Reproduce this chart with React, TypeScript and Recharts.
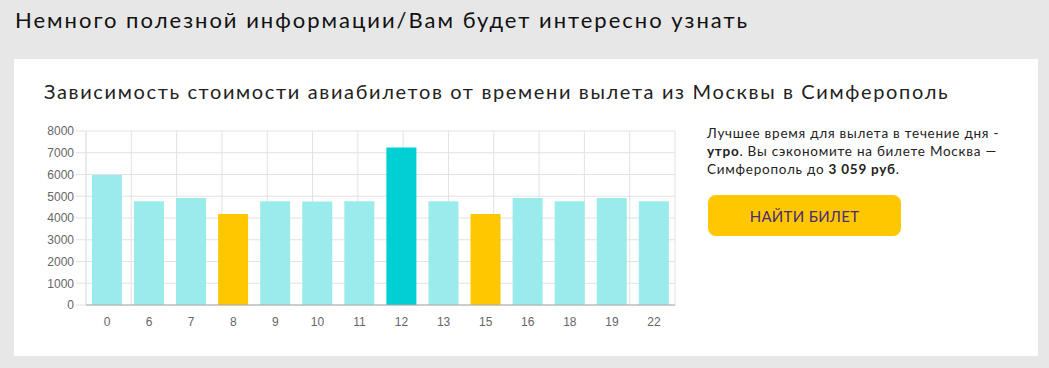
import React from 'react';
import { BarChart, Bar, XAxis, YAxis, CartesianGrid, Cell } from 'recharts';

const hours = ['0', '6', '7', '8', '9', '10', '11', '12', '13', '15', '16', '18', '19', '22'];
const prices = [5980, 4770, 4920, 4180, 4770, 4760, 4770, 7239, 4770, 4180, 4920, 4770, 4920, 4770];
const barKinds = ['normal', 'normal', 'normal', 'best', 'normal', 'normal', 'normal', 'worst', 'normal', 'best', 'normal', 'normal', 'normal', 'normal'];
const yTicks = [0, 1000, 2000, 3000, 4000, 5000, 6000, 7000, 8000];
const boundaryTicks = [0, 1, 2, 3, 4, 5, 6, 7, 8, 9, 10, 11, 12, 13];

const kindColor: Record<string, string> = {
  normal: '#9aebeb',
  best: '#ffc700',
  worst: '#00cfd3',
};

const data = hours.map((h, i) => ({ hour: h, price: prices[i], kind: barKinds[i] }));

const titleFont = "Lato, 'Open Sans', sans-serif";

export default function App() {
  return (
    <div style={{ position: 'fixed', left: 0, top: 0, width: 1049, height: 368, background: '#e7e7e7', overflow: 'hidden' }}>
      <div style={{ position: 'absolute', left: 15, top: 6, fontFamily: titleFont, fontSize: 22, color: '#111', letterSpacing: 2.0, whiteSpace: 'nowrap' }}>
        Немного полезной информации/Вам будет интересно узнать
      </div>
      <div style={{ position: 'absolute', left: 14, top: 59, width: 1024, height: 297, background: '#fff' }} />
      <div style={{ position: 'absolute', left: 44, top: 79, fontFamily: titleFont, fontSize: 20, color: '#222', letterSpacing: 1.65, whiteSpace: 'nowrap' }}>
        Зависимость стоимости авиабилетов от времени вылета из Москвы в Симферополь
      </div>
      <div style={{ position: 'absolute', left: 0, top: 110 }}>
        <BarChart width={700} height={240} data={data} margin={{ top: 21, right: 25, left: 0, bottom: 15 }} barCategoryGap="14%">
          <CartesianGrid xAxisId="grid" stroke="#e2e2e2" strokeWidth={1} />
          <XAxis
            xAxisId="grid"
            type="number"
            domain={[0, 14]}
            ticks={boundaryTicks}
            allowDataOverflow
            height={0}
            axisLine={false}
            tickSize={10}
            tickLine={{ stroke: '#e2e2e2' }}
            tickFormatter={() => ''}
          />
          <XAxis
            dataKey="hour"
            height={30}
            axisLine={{ stroke: '#a8a8a8' }}
            tickLine={false}
            tickSize={10}
            tickMargin={2}
            tick={{ fill: '#666', fontSize: 12, fontFamily: "'Liberation Sans', Arial, sans-serif" }}
          />
          <YAxis
            width={86}
            domain={[0, 8000]}
            ticks={yTicks}
            interval={0}
            axisLine={{ stroke: '#e2e2e2' }}
            tickLine={{ stroke: '#e2e2e2' }}
            tickSize={10}
            tickMargin={2}
            tick={{ fill: '#666', fontSize: 12, fontFamily: "'Liberation Sans', Arial, sans-serif" }}
          />
          <Bar dataKey="price" isAnimationActive={false}>
            {data.map((d, i) => (
              <Cell key={i} fill={kindColor[d.kind]} />
            ))}
          </Bar>
        </BarChart>
      </div>
      <div style={{ position: 'absolute', left: 707, top: 124, width: 320, fontFamily: titleFont, fontSize: 13.5, lineHeight: '18px', color: '#222', letterSpacing: 0.75, whiteSpace: 'nowrap' }}>
        Лучшее время для вылета в течение дня -<br />
        <b>утро</b>. Вы сэкономите на билете Москва —<br />
        Симферополь до <b>3 059 руб</b>.
      </div>
      <div style={{ position: 'absolute', left: 708, top: 195, width: 193, height: 41, borderRadius: 8, background: '#ffc700', display: 'flex', alignItems: 'center', justifyContent: 'center', fontFamily: titleFont, fontSize: 15, color: '#4a2b78', letterSpacing: 0.3 }}>
        НАЙТИ БИЛЕТ
      </div>
    </div>
  );
}
